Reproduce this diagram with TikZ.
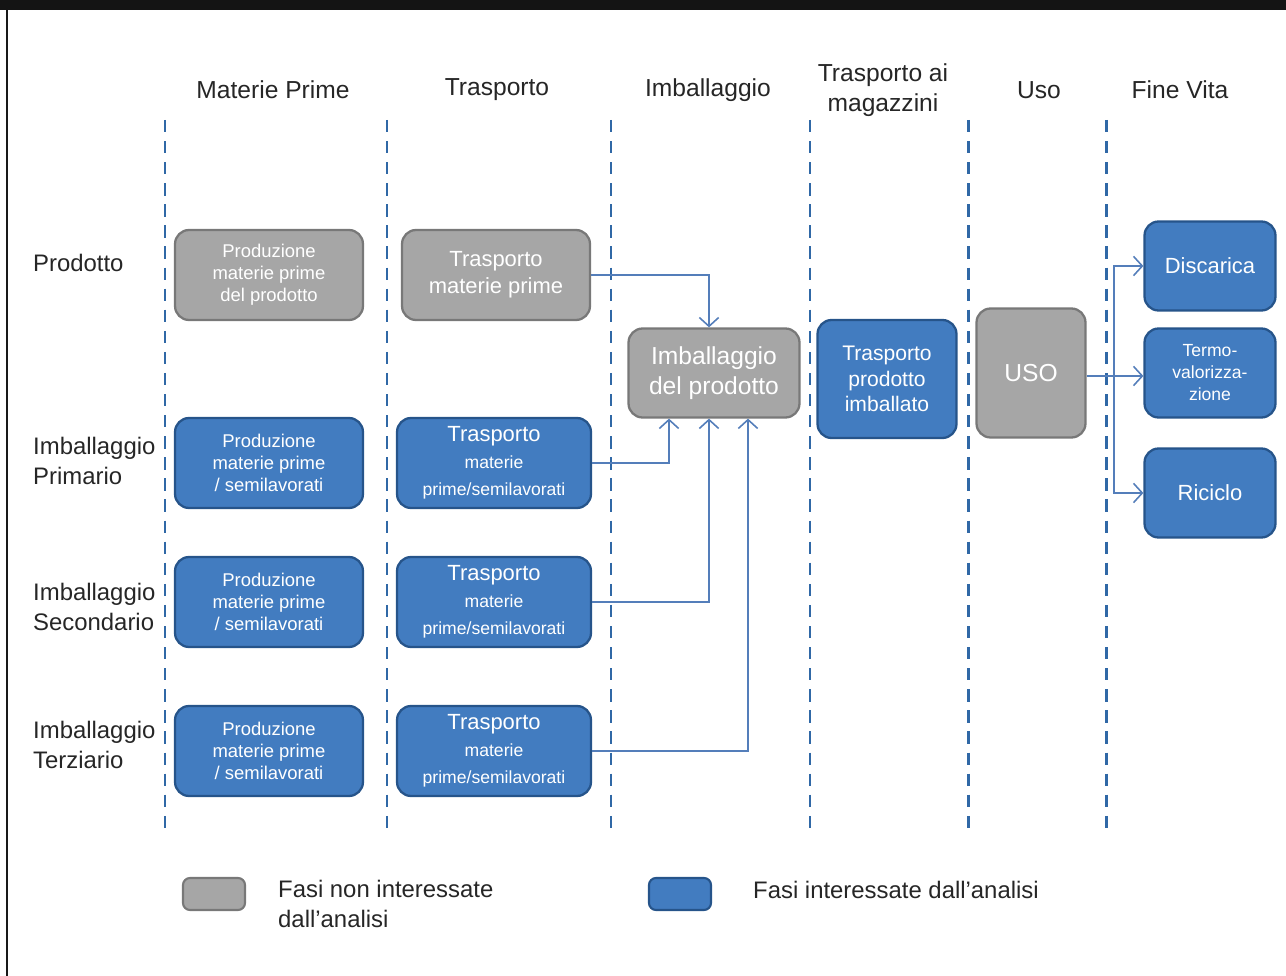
\documentclass[tikz,border=0pt]{standalone}
\usepackage{fontspec}
\setmainfont{Liberation Sans}
\usetikzlibrary{arrows.meta}

\definecolor{fasegrey}{RGB}{166,166,166}
\definecolor{fasegreyline}{RGB}{120,120,120}
\definecolor{faseblue}{RGB}{66,124,192}
\definecolor{faseblueline}{RGB}{38,84,138}
\definecolor{linkblue}{RGB}{84,126,186}
\definecolor{sepblue}{RGB}{48,104,166}

\newcommand{\piccolo}{\fontsize{10}{12.5}\selectfont}
\newcommand{\medio}{\fontsize{12.5}{15.3}\selectfont}
\newcommand{\grande}{\fontsize{14}{17}\selectfont}

\tikzset{
  fase/.style={rectangle, rounded corners=8pt, line width=1.3pt, text=white, align=center, inner sep=0pt,
    minimum width=3.76cm, minimum height=1.8cm, font=\fontsize{10.5}{12.5}\selectfont},
  grigia/.style={fase, draw=fasegreyline, fill=fasegrey},
  blu/.style={fase, draw=faseblueline, fill=faseblue},
  finevita/.style={blu, minimum width=2.62cm, minimum height=1.78cm},
  sep/.style={sepblue, line width=1.7pt, dash pattern=on 7pt off 5pt},
  link/.style={linkblue, line width=0.9pt, -{Straight Barb[length=5pt,width=11pt]}},
  head/.style={font=\grande, align=center, text=black!85},
  riga/.style={font=\fontsize{13.6}{17.5}\selectfont, align=left, anchor=west, text=black!85},
}

\begin{document}
\begin{tikzpicture}[x=0.02cm, y=-0.02cm]
    \useasboundingbox (0,0) rectangle (1286,976);
    \fill[black!92] (0,0) rectangle (1286,10);
    \draw[black!90, line width=1.7pt] (7,10) -- (7,976);

    \foreach \x in {165,387,611,810,968,1106}
      \draw[sep] (\x,120) -- (\x,830);

    \node[head] at (273,90) (hmat) {Materie Prime};
    \node[head] at (497,90) (htra) {Trasporto};
    \node[head] at (708,90) (himb) {Imballaggio};
    \node[head] at (883,90) (hmag) {Trasporto ai\\magazzini};
    \node[head] at (1039,90) (huso) {Uso};
    \node[head] at (1180,90) (hfin) {Fine Vita};

    \node[riga] at (27,263) (rprod) {Prodotto};
    \node[riga] at (27,461) (rprim) {Imballaggio\\Primario};
    \node[riga] at (27,607) (rsec) {Imballaggio\\Secondario};
    \node[riga] at (27,745) (rter) {Imballaggio\\Terziario};

    \node[grigia] at (269,275) (p1) {Produzione\\materie prime\\del prodotto};
    \node[grigia, font=\medio] at (496,275) (t1) {Trasporto\\materie prime};
    \node[grigia, font=\grande, minimum width=3.42cm, minimum height=1.78cm] at (714,373) (imb) {Imballaggio\\del prodotto};
    \node[blu, font=\fontsize{12}{14.7}\selectfont, minimum width=2.78cm, minimum height=2.36cm] at (887,379) (tpi) {Trasporto\\prodotto\\imballato};
    \node[grigia, font=\grande, minimum width=2.18cm, minimum height=2.58cm] at (1031,373) (uso) {USO};
    \node[finevita, font=\medio] at (1210,266) (disc) {Discarica};
    \node[finevita, font=\piccolo] at (1210,373) (termo) {Termo-\\valorizza-\\zione};
    \node[finevita, font=\medio] at (1210,493) (ric) {Riciclo};

    \node[blu] at (269,463) (p2) {Produzione\\materie prime\\/ semilavorati};
    \node[blu] at (269,602) (p3) {Produzione\\materie prime\\/ semilavorati};
    \node[blu] at (269,751) (p4) {Produzione\\materie prime\\/ semilavorati};
    \node[blu, font=\medio, minimum width=3.88cm] at (494,463) (t2) {Trasporto\\\piccolo materie\\\piccolo prime/semilavorati};
    \node[blu, font=\medio, minimum width=3.88cm] at (494,602) (t3) {Trasporto\\\piccolo materie\\\piccolo prime/semilavorati};
    \node[blu, font=\medio, minimum width=3.88cm] at (494,751) (t4) {Trasporto\\\piccolo materie\\\piccolo prime/semilavorati};

    \draw[link] (t1.east) -| ([xshift=-0.1cm]imb.north);
    \draw[link] (t2.east) -| ([xshift=-0.9cm]imb.south);
    \draw[link] (t3.east) -| ([xshift=-0.1cm]imb.south);
    \draw[link] (t4.east) -| ([xshift=0.68cm]imb.south);

    \coordinate (bivio) at (1114,376);
    \draw[link] (uso.east |- bivio) -- (termo.west |- bivio);
    \draw[link] (bivio) |- (disc.west);
    \draw[link] (bivio) |- (ric.west);

    \node[rectangle, rounded corners=4pt, draw=fasegreyline, line width=1.2pt, fill=fasegrey, minimum width=1.24cm, minimum height=0.64cm] at (214,894) (leggrigia) {};
    \node[riga] at (272,904) (txtgrigia) {Fasi non interessate\\dall'analisi};
    \node[rectangle, rounded corners=4pt, draw=faseblueline, line width=1.2pt, fill=faseblue, minimum width=1.24cm, minimum height=0.64cm] at (680,894) (legblu) {};
    \node[riga] at (747,890) (txtblu) {Fasi interessate dall'analisi};
  \end{tikzpicture}
\end{document}
